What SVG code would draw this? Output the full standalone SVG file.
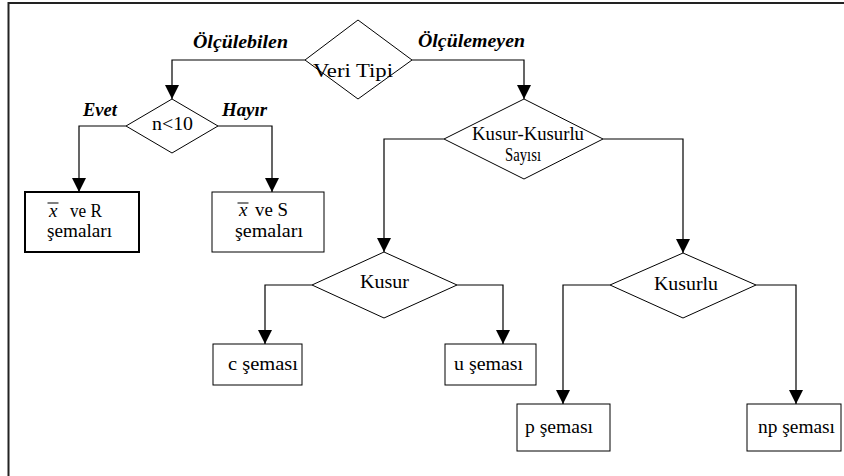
<svg xmlns="http://www.w3.org/2000/svg" width="844" height="476" viewBox="0 0 844 476">
<defs>
<marker id="arr" markerUnits="userSpaceOnUse" markerWidth="14" markerHeight="14" refX="14" refY="7" orient="auto">
<path d="M0,0 L14,7 L0,14 z" fill="#000"/>
</marker>
<style>
.sh{fill:#fff;stroke:#000;stroke-width:1}
.cn{fill:none;stroke:#000;stroke-width:1.2;marker-end:url(#arr)}
.t{font-family:"Liberation Serif","Times New Roman",serif;font-size:19px;fill:#000;text-anchor:middle}
.l{font-family:"Liberation Serif","Times New Roman",serif;font-size:19px;font-weight:bold;font-style:italic;fill:#000;text-anchor:middle}
.st{text-anchor:start}
</style>
</defs>
<rect width="844" height="476" fill="#fff"/>
<path d="M8.5,476 V3 H844" fill="none" stroke="#222" stroke-width="2"/>

<g id="connectors">
<path class="cn" d="M305,60 H172 V99"/>
<path class="cn" d="M412,60 H524 V99"/>
<path class="cn" d="M126,126 H79 V192"/>
<path class="cn" d="M218,126 H272 V192"/>
<path class="cn" d="M444,139 H384 V252"/>
<path class="cn" d="M603,139 H683 V253"/>
<path class="cn" d="M312,285 H265 V344"/>
<path class="cn" d="M457,285 H503 V344"/>
<path class="cn" d="M610,285 H563 V404"/>
<path class="cn" d="M756,285 H796 V404"/>
<text class="l" x="240.5" y="48" textLength="95" lengthAdjust="spacingAndGlyphs">Ölçülebilen</text>
<text class="l" x="471.5" y="47" textLength="107" lengthAdjust="spacingAndGlyphs">Ölçülemeyen</text>
<text class="l" x="100" y="116" textLength="34" lengthAdjust="spacingAndGlyphs">Evet</text>
<text class="l" x="244.5" y="116" textLength="45" lengthAdjust="spacingAndGlyphs">Hayır</text>
</g>

<g id="veri-tipi">
<polygon class="sh" points="305,60 358,20 412,60 358,99"/>
<text class="t" x="353" y="77" textLength="80" lengthAdjust="spacingAndGlyphs">Veri Tipi</text>
</g>

<g id="n10">
<polygon class="sh" points="126,126 172,99 218,126 172,153"/>
<text class="t" x="172.5" y="130" textLength="41" lengthAdjust="spacingAndGlyphs">n&lt;10</text>
</g>

<g id="xr">
<rect x="25" y="192" width="114" height="60" fill="#fff" stroke="#000" stroke-width="2"/>
<text class="t st" x="49" y="217" font-style="italic">x</text>
<line x1="47.5" y1="203" x2="58.5" y2="203" stroke="#000" stroke-width="1"/>
<text class="t st" x="70" y="217" textLength="32" lengthAdjust="spacingAndGlyphs">ve R</text>
<text class="t" x="79.5" y="237" textLength="65" lengthAdjust="spacingAndGlyphs">şemaları</text>
</g>

<g id="xs">
<rect class="sh" x="212" y="192" width="112" height="60"/>
<text class="t st" x="239" y="216" font-style="italic">x</text>
<line x1="237.5" y1="203" x2="248.5" y2="203" stroke="#000" stroke-width="1"/>
<text class="t st" x="255" y="216" textLength="33" lengthAdjust="spacingAndGlyphs">ve S</text>
<text class="t" x="269" y="237" textLength="68" lengthAdjust="spacingAndGlyphs">şemaları</text>
</g>

<g id="kusur-kusurlu">
<polygon class="sh" points="444,139 524,99 603,139 524,179"/>
<text class="t" x="528" y="140" textLength="112" lengthAdjust="spacingAndGlyphs">Kusur-Kusurlu</text>
<text class="t" x="523" y="161" font-size="17" textLength="36" lengthAdjust="spacingAndGlyphs">Sayısı</text>
</g>

<g id="kusur">
<polygon class="sh" points="312,285 384,252 457,285 384,318"/>
<text class="t" x="384.5" y="288" textLength="49" lengthAdjust="spacingAndGlyphs">Kusur</text>
</g>

<g id="kusurlu">
<polygon class="sh" points="610,285 683,253 756,285 683,318"/>
<text class="t" x="686" y="290" textLength="64" lengthAdjust="spacingAndGlyphs">Kusurlu</text>
</g>

<g id="c-semasi">
<rect class="sh" x="213" y="344" width="89" height="41"/>
<text class="t" x="263" y="370" textLength="70" lengthAdjust="spacingAndGlyphs">c şeması</text>
</g>

<g id="u-semasi">
<rect class="sh" x="445" y="344" width="91" height="41"/>
<text class="t" x="488.5" y="370" textLength="69" lengthAdjust="spacingAndGlyphs">u şeması</text>
</g>

<g id="p-semasi">
<rect class="sh" x="517" y="404" width="93" height="47"/>
<text class="t" x="559" y="433" textLength="68" lengthAdjust="spacingAndGlyphs">p şeması</text>
</g>

<g id="np-semasi">
<rect class="sh" x="747" y="404" width="94" height="47"/>
<text class="t" x="796.5" y="433" textLength="77" lengthAdjust="spacingAndGlyphs">np şeması</text>
</g>
</svg>
